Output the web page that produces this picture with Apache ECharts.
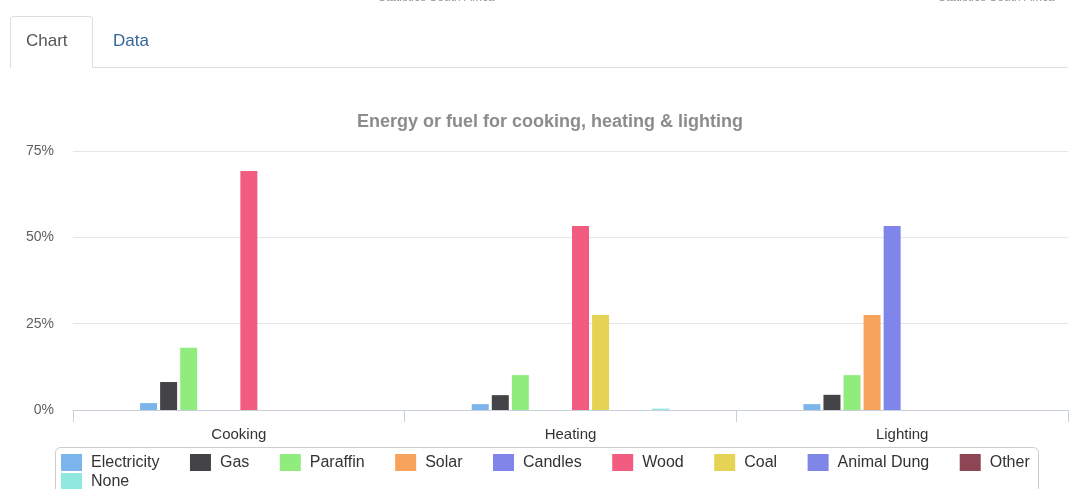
<!DOCTYPE html>
<html>
<head>
<meta charset="utf-8">
<script src="https://cdn.jsdelivr.net/npm/echarts@6/dist/echarts.min.js"></script>
<style>
  html, body { margin: 0; padding: 0; background: #fff; }
  #chart { width: 1070px; height: 489px; }
</style>
</head>
<body>
<div id="chart"></div>
<script>
// categories and values (percent)
var categories = ["Cooking", "Heating", "Lighting"];
var yTicks = [0, 25, 50, 75];

var electricity = [2.0, 1.7, 1.7];
var gas = [8.1, 4.3, 4.4];
var paraffin = [18.0, 10.1, 10.1];
var solar = [0, 0, 27.5];
var candles = [0, 0, 53.3];
var wood = [69.2, 53.3, 0];
var coal = [0, 27.5, 0];
var animalDung = [0, 0, 0];
var other = [0, 0, 0];
var none = [0, 0.4, 0];

var seriesNames = ["Electricity", "Gas", "Paraffin", "Solar", "Candles", "Wood", "Coal", "Animal Dung", "Other", "None"];
var seriesData = [electricity, gas, paraffin, solar, candles, wood, coal, animalDung, other, none];
var colors = ["#7cb5ec", "#434348", "#90ed7d", "#f7a35c", "#8085e9", "#f15c80", "#e4d354", "#8085e8", "#8d4653", "#91e8e1"];

var chart = echarts.init(document.getElementById("chart"));

var series = seriesNames.map(function (name, i) {
  return {
    name: name,
    type: "bar",
    barWidth: 17,
    barGap: "18%",
    itemStyle: { color: colors[i] },
    data: seriesData[i]
  };
});

var legendBase = {
  orient: "horizontal",
  itemWidth: 21,
  itemHeight: 17,
  itemGap: 30.5,
  icon: "rect",
  padding: 0,
  textStyle: { color: "#333", fontSize: 16, padding: [0, 0, 0, 4] }
};

var option = {
  animation: false,
  color: colors,
  textStyle: { fontFamily: "Liberation Sans, Arial, sans-serif" },
  title: {
    text: "Energy or fuel for cooking, heating & lighting",
    left: 545,
    textAlign: "center",
    top: 108,
    textStyle: { color: "#8c8c8c", fontSize: 18, fontWeight: "bold" }
  },
  graphic: [
    // faint header text, cut at the top
    { type: "text", left: 378, top: -8, style: { text: "Statistics South Africa", fill: "#999", font: "12px Liberation Sans" } },
    { type: "text", left: 938, top: -8, style: { text: "Statistics South Africa", fill: "#999", font: "12px Liberation Sans" } },
    // tabs
    { type: "line", shape: { x1: 92, y1: 67.5, x2: 1068, y2: 67.5 }, style: { stroke: "#ddd", lineWidth: 1 } },
    { type: "polyline", shape: { points: [[10.5, 68], [10.5, 18], [13, 16.5], [90, 16.5], [92.5, 18], [92.5, 68]] }, style: { stroke: "#ddd", fill: "#fff", lineWidth: 1 } },
    { type: "text", left: 26, top: 33, style: { text: "Chart", fill: "#555", font: "17px Liberation Sans" } },
    { type: "text", left: 113, top: 33, style: { text: "Data", fill: "#33669a", font: "17px Liberation Sans" } },
    // legend box
    { type: "rect", shape: { x: 55.5, y: 447.5, width: 983, height: 60, r: 5 }, style: { stroke: "#ccc", fill: "none", lineWidth: 1 }, z: -1 }
  ],
  legend: [
    Object.assign({}, legendBase, { left: 61, top: 454, data: seriesNames.slice(0, 9) }),
    Object.assign({}, legendBase, { left: 61, top: 473, data: seriesNames.slice(9) })
  ],
  grid: { left: 73, right: 2, top: 151, bottom: 79 },
  xAxis: {
    type: "category",
    data: categories,
    axisLine: { lineStyle: { color: "#c8d0dc" } },
    axisTick: { show: true, length: 12, lineStyle: { color: "#c8d0dc" } },
    axisLabel: { color: "#333", fontSize: 15, margin: 17 }
  },
  yAxis: {
    type: "value",
    min: yTicks[0],
    max: yTicks[yTicks.length - 1],
    interval: 25,
    axisLabel: { formatter: "{value}%", color: "#606060", fontSize: 14, margin: 19 },
    splitLine: { lineStyle: { color: "#e6e6e6" } }
  },
  series: series
};

chart.setOption(option);
</script>
</body>
</html>
